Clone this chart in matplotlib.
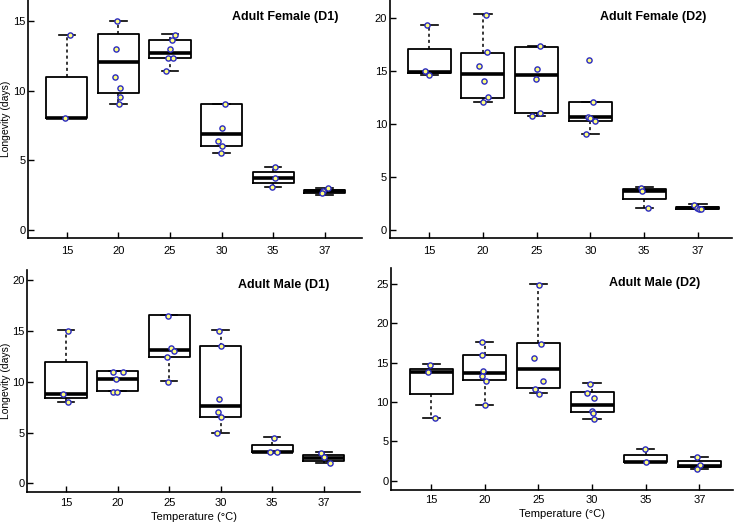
import matplotlib
matplotlib.use("Agg")
import matplotlib.pyplot as plt

plt.rcParams['font.family'] = ['Liberation Sans Narrow', 'Liberation Sans', 'DejaVu Sans']

temps = ["15", "20", "25", "30", "35", "37"]

# Adult Female (D1)
fd1_q1 = [8.0, 9.85, 12.36, 6.05, 3.38, 2.66]
fd1_med = [8.0, 12.05, 12.72, 6.86, 3.74, 2.76]
fd1_q3 = [11.0, 14.05, 13.6, 9.0, 4.13, 2.86]
fd1_lo = [8.0, 9.0, 11.4, 5.5, 3.05, 2.5]
fd1_hi = [14.0, 15.0, 14.05, 9.0, 4.5, 3.02]
fd1_pts = [[14.0, 8.0],
           [15.0, 13.0, 11.0, 10.2, 9.5, 9.0],
           [14.0, 13.6, 13.0, 12.35, 12.35, 11.4],
           [9.0, 7.3, 6.35, 6.0, 5.5],
           [4.5, 3.75, 3.05],
           [3.0, 2.8, 2.65]]
fd1_jit = [[0.06, -0.03],
           [-0.03, -0.05, -0.06, 0.04, 0.03, 0.01],
           [0.10, 0.03, 0.01, -0.03, 0.06, -0.07],
           [0.06, 0.0, -0.07, 0.01, -0.01],
           [0.03, 0.03, -0.02],
           [0.06, -0.03, -0.06]]

# Adult Female (D2)
fd2_q1 = [14.82, 12.46, 10.99, 10.27, 2.89, 1.98]
fd2_med = [14.95, 14.69, 14.66, 10.64, 3.7, 2.04]
fd2_q3 = [17.08, 16.7, 17.27, 12.03, 3.83, 2.13]
fd2_lo = [14.65, 12.03, 10.77, 9.04, 2.04, 1.98]
fd2_hi = [19.35, 20.35, 17.33, 12.03, 4.02, 2.42]
fd2_out = [[], [], [], [16.05], [], []]
fd2_pts = [[19.35, 15.0, 14.65],
           [20.3, 16.75, 15.45, 14.05, 12.5, 12.05],
           [17.35, 15.2, 14.2, 11.0, 10.8],
           [16.05, 12.05, 10.7, 10.55, 10.3, 9.05],
           [3.95, 3.65, 2.05],
           [2.4, 2.1, 2.0, 2.0]]
fd2_jit = [[-0.04, -0.07, 0.0],
           [0.06, 0.07, -0.07, 0.02, 0.10, 0.0],
           [0.07, 0.01, -0.02, 0.07, -0.09],
           [-0.02, 0.04, -0.04, 0.0, 0.09, -0.08],
           [-0.06, -0.04, 0.07],
           [-0.07, -0.02, 0.01, 0.06]]

# Adult Male (D1)
md1_q1 = [8.38, 9.1, 12.47, 6.55, 3.08, 2.23]
md1_med = [8.84, 10.31, 13.13, 7.66, 3.08, 2.52]
md1_q3 = [11.95, 11.06, 16.53, 13.55, 3.8, 2.75]
md1_lo = [8.05, 9.1, 10.08, 4.98, 3.08, 2.03]
md1_hi = [15.09, 11.06, 16.53, 15.12, 4.52, 3.04]
md1_pts = [[15.0, 8.75, 8.0],
           [11.0, 11.0, 10.25, 9.0, 9.0],
           [16.45, 13.3, 13.05, 12.4, 10.0],
           [15.0, 13.5, 8.3, 7.05, 6.5, 5.0],
           [4.5, 3.05, 3.05],
           [3.0, 2.6, 2.0]]
md1_jit = [[0.03, -0.05, 0.03],
           [-0.08, 0.10, -0.03, -0.09, -0.01],
           [-0.02, 0.03, 0.09, -0.05, -0.03],
           [-0.03, 0.01, -0.04, -0.05, 0.01, -0.08],
           [0.03, -0.04, 0.09],
           [-0.05, 0.01, 0.13]]

# Adult Male (D2)
md2_q1 = [11.05, 12.77, 11.76, 8.68, 2.45, 1.73]
md2_med = [13.83, 13.7, 14.17, 9.61, 2.45, 1.94]
md2_q3 = [14.21, 15.98, 17.41, 11.3, 3.33, 2.53]
md2_lo = [8.01, 9.61, 11.09, 7.88, 2.45, 1.48]
md2_hi = [14.76, 17.66, 24.92, 12.35, 4.0, 3.04]
md2_pts = [[14.7, 13.8, 8.0],
           [17.6, 15.95, 13.9, 13.35, 12.7, 9.6],
           [24.8, 17.4, 15.6, 12.65, 11.7, 11.05],
           [12.3, 11.2, 10.45, 8.8, 8.6, 7.9],
           [4.0, 2.4],
           [3.0, 2.0, 1.5]]
md2_jit = [[-0.02, -0.06, 0.07],
           [-0.06, -0.06, -0.04, -0.06, 0.02, 0.01],
           [0.01, 0.04, -0.09, 0.09, -0.06, 0.01],
           [-0.04, -0.09, 0.04, 0.0, 0.02, 0.04],
           [-0.01, 0.0],
           [-0.04, 0.01, -0.05]]


def draw_panel(ax, q1, med, q3, lo, hi, pts, jit, title, yticks, xlim, ylim, xpad, out=None):
    stats = []
    for i in range(len(temps)):
        stats.append({"q1": q1[i], "med": med[i], "q3": q3[i],
                      "whislo": lo[i], "whishi": hi[i],
                      "fliers": out[i] if out else []})
    pos = list(range(1, len(temps) + 1))
    ax.bxp(stats, positions=pos, widths=0.8, capwidths=0.32, showfliers=False,
           boxprops=dict(color="black", linewidth=1.3),
           medianprops=dict(color="black", linewidth=2.6, solid_capstyle="butt"),
           whiskerprops=dict(color="black", linewidth=1.1, linestyle=(0, (2, 2))),
           capprops=dict(color="black", linewidth=1.2))
    for i in range(len(temps)):
        xs = [pos[i] + j for j in jit[i]]
        ax.scatter(xs, pts[i], s=14, facecolor="#ffff80", edgecolor="#2a2ac0",
                   linewidth=1.0, zorder=5)
    ax.set_xticks(pos)
    ax.set_xticklabels(temps)
    ax.set_yticks(yticks)
    ax.set_xlim(xlim)
    ax.set_ylim(ylim)
    ax.spines["top"].set_visible(False)
    ax.spines["right"].set_visible(False)
    ax.spines["left"].set_linewidth(1.2)
    ax.spines["bottom"].set_linewidth(1.2)
    ax.tick_params(axis="both", direction="in", labelsize=8, length=4, width=1.0)
    ax.tick_params(axis="y", pad=2)
    ax.tick_params(axis="x", pad=xpad)
    ax.text(0.77, 0.93, title, transform=ax.transAxes, ha="center", va="center",
            fontsize=9, fontweight="bold")


fig = plt.figure(figsize=(7.4, 5.24), dpi=100)
ax1 = fig.add_axes([0.038, 0.546, 0.451, 0.454])
ax2 = fig.add_axes([0.527, 0.546, 0.462, 0.454])
ax3 = fig.add_axes([0.037, 0.061, 0.450, 0.424])
ax4 = fig.add_axes([0.529, 0.065, 0.461, 0.424])

draw_panel(ax1, fd1_q1, fd1_med, fd1_q3, fd1_lo, fd1_hi, fd1_pts, fd1_jit,
           "Adult Female (D1)", [0, 5, 10, 15], (0.25, 6.72), (-0.58, 16.5), 6)
draw_panel(ax2, fd2_q1, fd2_med, fd2_q3, fd2_lo, fd2_hi, fd2_pts, fd2_jit,
           "Adult Female (D2)", [0, 5, 10, 15, 20], (0.27, 6.63), (-0.75, 21.7), 6, fd2_out)
draw_panel(ax3, md1_q1, md1_med, md1_q3, md1_lo, md1_hi, md1_pts, md1_jit,
           "Adult Male (D1)", [0, 5, 10, 15, 20], (0.25, 6.71), (-0.85, 21.0), 4)
draw_panel(ax4, md2_q1, md2_med, md2_q3, md2_lo, md2_hi, md2_pts, md2_jit,
           "Adult Male (D2)", [0, 5, 10, 15, 20, 25], (0.26, 6.62), (-1.14, 27.0), 4)

ax1.set_ylabel("Longevity (days)", fontsize=7.5)
ax3.set_ylabel("Longevity (days)", fontsize=7.5)
ax1.yaxis.set_label_coords(-0.050, 0.5)
ax3.yaxis.set_label_coords(-0.050, 0.5)
ax3.set_xlabel("Temperature (°C)", fontsize=8)
ax4.set_xlabel("Temperature (°C)", fontsize=8)
ax3.xaxis.set_label_coords(0.5, -0.088)
ax4.xaxis.set_label_coords(0.5, -0.088)

fig.savefig("out.png", dpi=100)
